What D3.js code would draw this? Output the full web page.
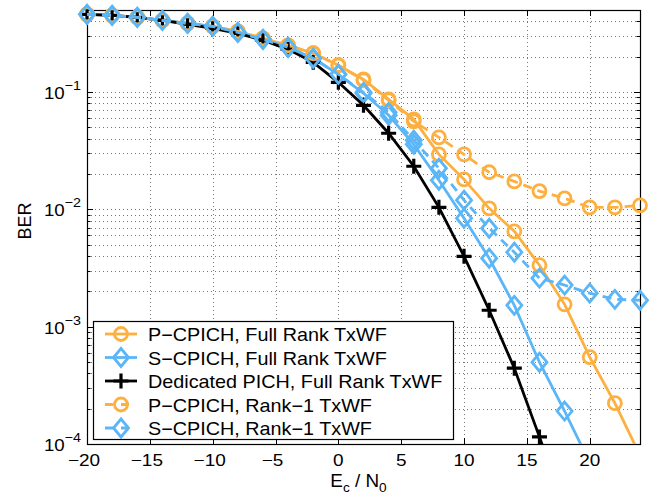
<!DOCTYPE html>
<html>
<head>
<meta charset="utf-8">
<script src="https://cdn.jsdelivr.net/npm/d3@7"></script>
<style>
  body { margin: 0; background: #fff; }
  svg { font-family: "Liberation Sans", Arial, sans-serif; }
</style>
</head>
<body>
<div id="chart"></div>
<script>
// Ec/N0 in dB
const ecN0 = [-20, -18, -16, -14, -12, -10, -8, -6, -4, -2, 0, 2, 4, 6, 8, 10, 12, 14, 16, 18, 20, 22, 24];

// BER
const pCpichFull = [0.459, 0.450, 0.433, 0.408, 0.385, 0.363, 0.329, 0.287, 0.250, 0.214, 0.169, 0.128, 0.0867, 0.0585, 0.0294, 0.0180, 0.0102, 0.0065, 0.00334, 0.00155, 0.00055, 0.000223, 0.00008];
const sCpichFull = [0.459, 0.450, 0.433, 0.408, 0.385, 0.363, 0.322, 0.281, 0.240, 0.194, 0.1416, 0.0975, 0.0633, 0.0358, 0.0177, 0.0084, 0.00383, 0.00152, 0.000498, 0.000191, 0.000069];
const dedicatedFull = [0.459, 0.450, 0.433, 0.408, 0.378, 0.349, 0.316, 0.276, 0.231, 0.179, 0.121, 0.077, 0.0445, 0.0233, 0.0104, 0.00398, 0.00138, 0.000443, 0.000115, 0.000028];
const pCpichRank1 = [0.459, 0.450, 0.433, 0.408, 0.385, 0.363, 0.329, 0.287, 0.250, 0.214, 0.169, 0.126, 0.085, 0.0562, 0.0411, 0.0294, 0.0207, 0.0173, 0.0143, 0.0124, 0.0104, 0.0104, 0.0108];
const sCpichRank1 = [0.459, 0.450, 0.433, 0.408, 0.385, 0.363, 0.322, 0.281, 0.240, 0.194, 0.1416, 0.0994, 0.0671, 0.0388, 0.0224, 0.01197, 0.0069, 0.00431, 0.00259, 0.00226, 0.00193, 0.00171, 0.00168];

const seriesNames = [
  "P\u2212CPICH, Full Rank TxWF",
  "S\u2212CPICH, Full Rank TxWF",
  "Dedicated PICH, Full Rank TxWF",
  "P\u2212CPICH, Rank\u22121 TxWF",
  "S\u2212CPICH, Rank\u22121 TxWF"
];
const xTickValues = [-20, -15, -10, -5, 0, 5, 10, 15, 20];
const yTickExponents = [-1, -2, -3, -4];

const orange = "#fdb040";
const blue = "#5bb6f7";

const series = [
  { name: seriesNames[0], values: pCpichFull, color: orange, marker: "circle", dash: null },
  { name: seriesNames[1], values: sCpichFull, color: blue, marker: "diamond", dash: null },
  { name: seriesNames[2], values: dedicatedFull, color: "#000", marker: "plus", dash: null },
  { name: seriesNames[3], values: pCpichRank1, color: orange, marker: "circle", dash: "9,6" },
  { name: seriesNames[4], values: sCpichRank1, color: blue, marker: "diamond", dash: "9,6" }
];

const margin = { top: 10, right: 23, bottom: 51, left: 87 };
const W = 663, H = 495;
const width = W - margin.left - margin.right;
const height = H - margin.top - margin.bottom;
const stretch = 1.1;   // text in the picture is a bit wider than Arial

const x = d3.scaleLinear().domain([-20, 24]).range([0, width]);
const y = d3.scaleLog().domain([1e-4, 0.5]).range([height, 0]);

const svg = d3.select("#chart").append("svg")
    .attr("width", W).attr("height", H);
const g = svg.append("g").attr("transform", `translate(${margin.left},${margin.top})`);

svg.append("defs").append("clipPath").attr("id", "plotclip")
  .append("rect").attr("width", width).attr("height", height);

// wide text helper
function label(parent, px, py, size, anchor, sx) {
  return parent.append("g").attr("transform", `translate(${px},${py}) scale(${sx || stretch},1)`)
    .append("text").attr("font-size", size).attr("text-anchor", anchor).attr("fill", "#000");
}

// log minor values
const yMinor = [];
for (let e = -4; e <= -1; e++) {
  for (let k = 1; k <= 9; k++) {
    const v = k * Math.pow(10, e);
    if (v <= 0.5 + 1e-9) yMinor.push(v);
  }
}

// grid
const grid = g.append("g").attr("stroke", "#777").attr("stroke-width", 1).attr("stroke-dasharray", "1,3");
xTickValues.filter(d => d > -20).forEach(d => {
  grid.append("line").attr("x1", Math.round(x(d)) + 0.5).attr("x2", Math.round(x(d)) + 0.5)
    .attr("y1", 0).attr("y2", height);
});
yMinor.filter(v => v > 1e-4 * 1.01 && v < 0.5 * 0.99).forEach(v => {
  grid.append("line").attr("x1", 0).attr("x2", width)
    .attr("y1", Math.round(y(v)) + 0.5).attr("y2", Math.round(y(v)) + 0.5);
});

// ticks inside on all four sides
const ticks = g.append("g").attr("stroke", "#000").attr("stroke-width", 1);
xTickValues.forEach(d => {
  const px = Math.round(x(d)) + 0.5;
  ticks.append("line").attr("x1", px).attr("x2", px).attr("y1", height).attr("y2", height - 6);
  ticks.append("line").attr("x1", px).attr("x2", px).attr("y1", 0).attr("y2", 6);
});
yMinor.forEach(v => {
  const py = Math.round(y(v)) + 0.5;
  const major = Math.abs(Math.log10(v) - Math.round(Math.log10(v))) < 1e-6;
  const len = major ? 6 : 3.5;
  ticks.append("line").attr("x1", 0).attr("x2", len).attr("y1", py).attr("y2", py);
  ticks.append("line").attr("x1", width).attr("x2", width - len).attr("y1", py).attr("y2", py);
});

// frame
g.append("rect").attr("x", 0.5).attr("y", 0.5).attr("width", width).attr("height", height)
  .attr("fill", "none").attr("stroke", "#000").attr("stroke-width", 1.2);

// tick labels
const fmt = d3.format("d");
xTickValues.forEach(d => {
  label(g, x(d) - (d < 0 ? 3 : 0), height + 22, 16.5, "middle", 1.15).text(fmt(d));
});

yTickExponents.forEach(e => {
  const t = label(g, -6, y(Math.pow(10, e)) + 7, 17, "end");
  t.append("tspan").text("10");
  t.append("tspan").attr("dy", -9).attr("font-size", 13).text("\u2212" + Math.abs(e));
});

// axis labels
svg.append("g").attr("transform", "translate(31,221) rotate(-90)")
  .append("text").attr("text-anchor", "middle").attr("font-size", 18).text("BER");
const xl = label(svg, margin.left + x(1.6), 487, 18, "middle", 1.05);
xl.append("tspan").text("E");
xl.append("tspan").attr("dy", 5).attr("font-size", 13).text("c");
xl.append("tspan").attr("dy", -5).text(" / N");
xl.append("tspan").attr("dy", 5).attr("font-size", 13).text("0");

// markers
function drawMarker(sel, type, color) {
  if (type === "circle") {
    sel.append("circle").attr("r", 6.5).attr("fill", "none").attr("stroke", color).attr("stroke-width", 2.8);
  } else if (type === "diamond") {
    sel.append("path").attr("d", "M0,-9L7.5,0L0,9L-7.5,0Z").attr("fill", "none")
      .attr("stroke", color).attr("stroke-width", 2.8).attr("stroke-linejoin", "miter");
  } else {
    sel.append("path").attr("d", "M-7.5,0H7.5M0,-7.5V7.5").attr("stroke", color).attr("stroke-width", 3.2);
  }
}

const line = d3.line().x(d => x(d[0])).y(d => y(d[1]));
series.forEach(s => {
  const pts = s.values.map((v, i) => [ecN0[i], v]);
  g.append("path").datum(pts)
    .attr("clip-path", "url(#plotclip)")
    .attr("fill", "none").attr("stroke", s.color).attr("stroke-width", 2.8)
    .attr("stroke-dasharray", s.dash)
    .attr("d", line);
  pts.filter(p => p[1] >= 1e-4).forEach(p => {
    const m = g.append("g").attr("transform", `translate(${x(p[0])},${y(p[1])})`);
    drawMarker(m, s.marker, s.color);
  });
});

// legend
const leg = svg.append("g").attr("transform", "translate(93,321)");
leg.append("rect").attr("x", 0.5).attr("y", 0.5).attr("width", 360).attr("height", 118)
  .attr("fill", "#fff").attr("stroke", "#000").attr("stroke-width", 1.2);
series.forEach((s, i) => {
  const ly = 13 + i * 23.5;
  leg.append("line").attr("x1", 12).attr("x2", 44).attr("y1", ly).attr("y2", ly)
    .attr("stroke", s.color).attr("stroke-width", 2.8).attr("stroke-dasharray", s.dash ? "8,8" : null);
  const m = leg.append("g").attr("transform", `translate(28,${ly})`);
  drawMarker(m, s.marker, s.color);
  label(leg, 55, ly + 7, 18, "start", 1.1).text(s.name);
});
</script>
</body>
</html>
